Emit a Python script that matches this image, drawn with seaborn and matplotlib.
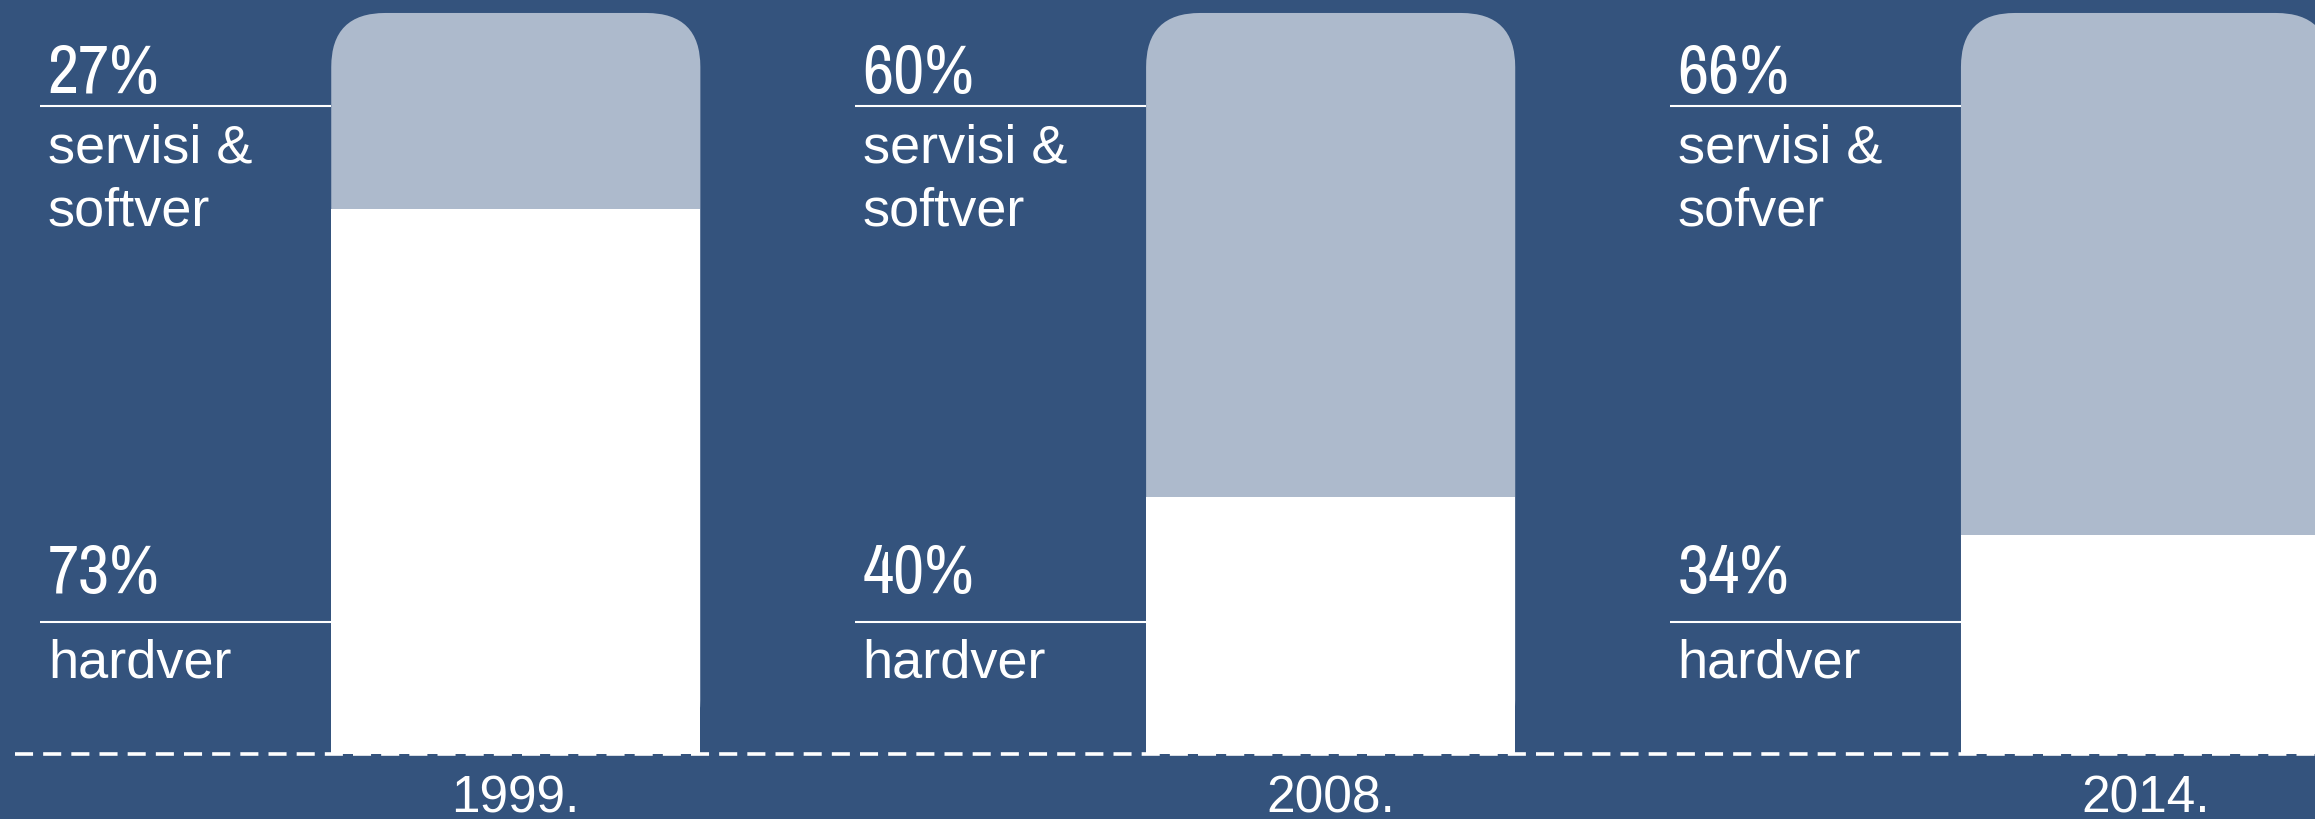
import pandas as pd
import seaborn as sns
import matplotlib.pyplot as plt
from matplotlib.patches import FancyBboxPatch

# podaci sa slike
godine = ["1999.", "2008.", "2014."]
servisi_pct = [27, 60, 66]
hardver_pct = [73, 40, 34]
# visina bijelog dijela stupca kako je nacrtana na slici
hardver_visina = [73.5, 34.7, 29.5]
servisi_naziv = ["servisi &\nsoftver", "servisi &\nsoftver", "servisi &\nsofver"]
hardver_naziv = ["hardver", "hardver", "hardver"]

pozadina = "#34537d"
svijetla = "#adbacc"
uski = ["Archivo Narrow", "Liberation Sans", "DejaVu Sans"]
obicni = ["Liberation Sans", "DejaVu Sans"]

sns.set_style("white")

W, H = 2315, 819
fig = plt.figure(figsize=(W / 100, H / 100), dpi=100, facecolor=pozadina)
ax = fig.add_axes([0, 0, 1, 1])

sirina = 0.453
xlim = (-0.633, 2.208)
ylim = (-8.77, 101.75)
px_x = W / (xlim[1] - xlim[0])
px_y = H / (ylim[1] - ylim[0])

df = pd.DataFrame({"godina": godine, "ukupno": [100] * 3, "hardver": hardver_visina})

# svijetli stupac (100%) sa zaobljenim rubovima
sns.barplot(data=df, x="godina", y="ukupno", color=svijetla, saturation=1,
            width=sirina, linewidth=0, errorbar=None, ax=ax)
r = 54 / px_x
for p in list(ax.patches):
    x0, y0, w, h = p.get_x(), p.get_y(), p.get_width(), p.get_height()
    p.remove()
    ax.add_patch(FancyBboxPatch((x0, y0), w, h,
                                boxstyle=f"round,pad=0,rounding_size={r}",
                                mutation_aspect=px_x / px_y,
                                fc=svijetla, ec="none"))

# bijeli dio = hardver
sns.barplot(data=df, x="godina", y="hardver", color="white", saturation=1,
            width=sirina, linewidth=0, errorbar=None, ax=ax)

# isprekidana osnovna linija
ax.plot([xlim[0] + 15 / px_x, xlim[1]], [0, 0], color="white", lw=2.6,
        dashes=(5.0, 2.8), zorder=5)

for i in range(len(godine)):
    lijevo = i - sirina / 2
    x0 = i - 476 / px_x
    for yl in (87.45, 17.81):
        ax.plot([x0, lijevo], [yl, yl], color="white", lw=1.5,
                solid_capstyle="butt", zorder=4)
    tx = x0 + 8 / px_x
    ax.text(tx, 89.2, f"{servisi_pct[i]}%", color="white", fontsize=49,
            family=uski, va="baseline")
    for j, red in enumerate(servisi_naziv[i].split("\n")):
        ax.text(tx, 79.8 - j * 63 / px_y, red, color="white", fontsize=39,
                family=obicni, va="baseline")
    ax.text(tx, 21.73, f"{hardver_pct[i]}%", color="white", fontsize=49,
            family=uski, va="baseline")
    ax.text(tx, 10.26, hardver_naziv[i], color="white", fontsize=39,
            family=obicni, va="baseline")
    ax.text(i, -7.9, godine[i], color="white", fontsize=37,
            family=obicni, ha="center", va="baseline")

ax.set_xlim(*xlim)
ax.set_ylim(*ylim)
ax.set_axis_off()

fig.savefig("out.png", dpi=100, facecolor=pozadina)
